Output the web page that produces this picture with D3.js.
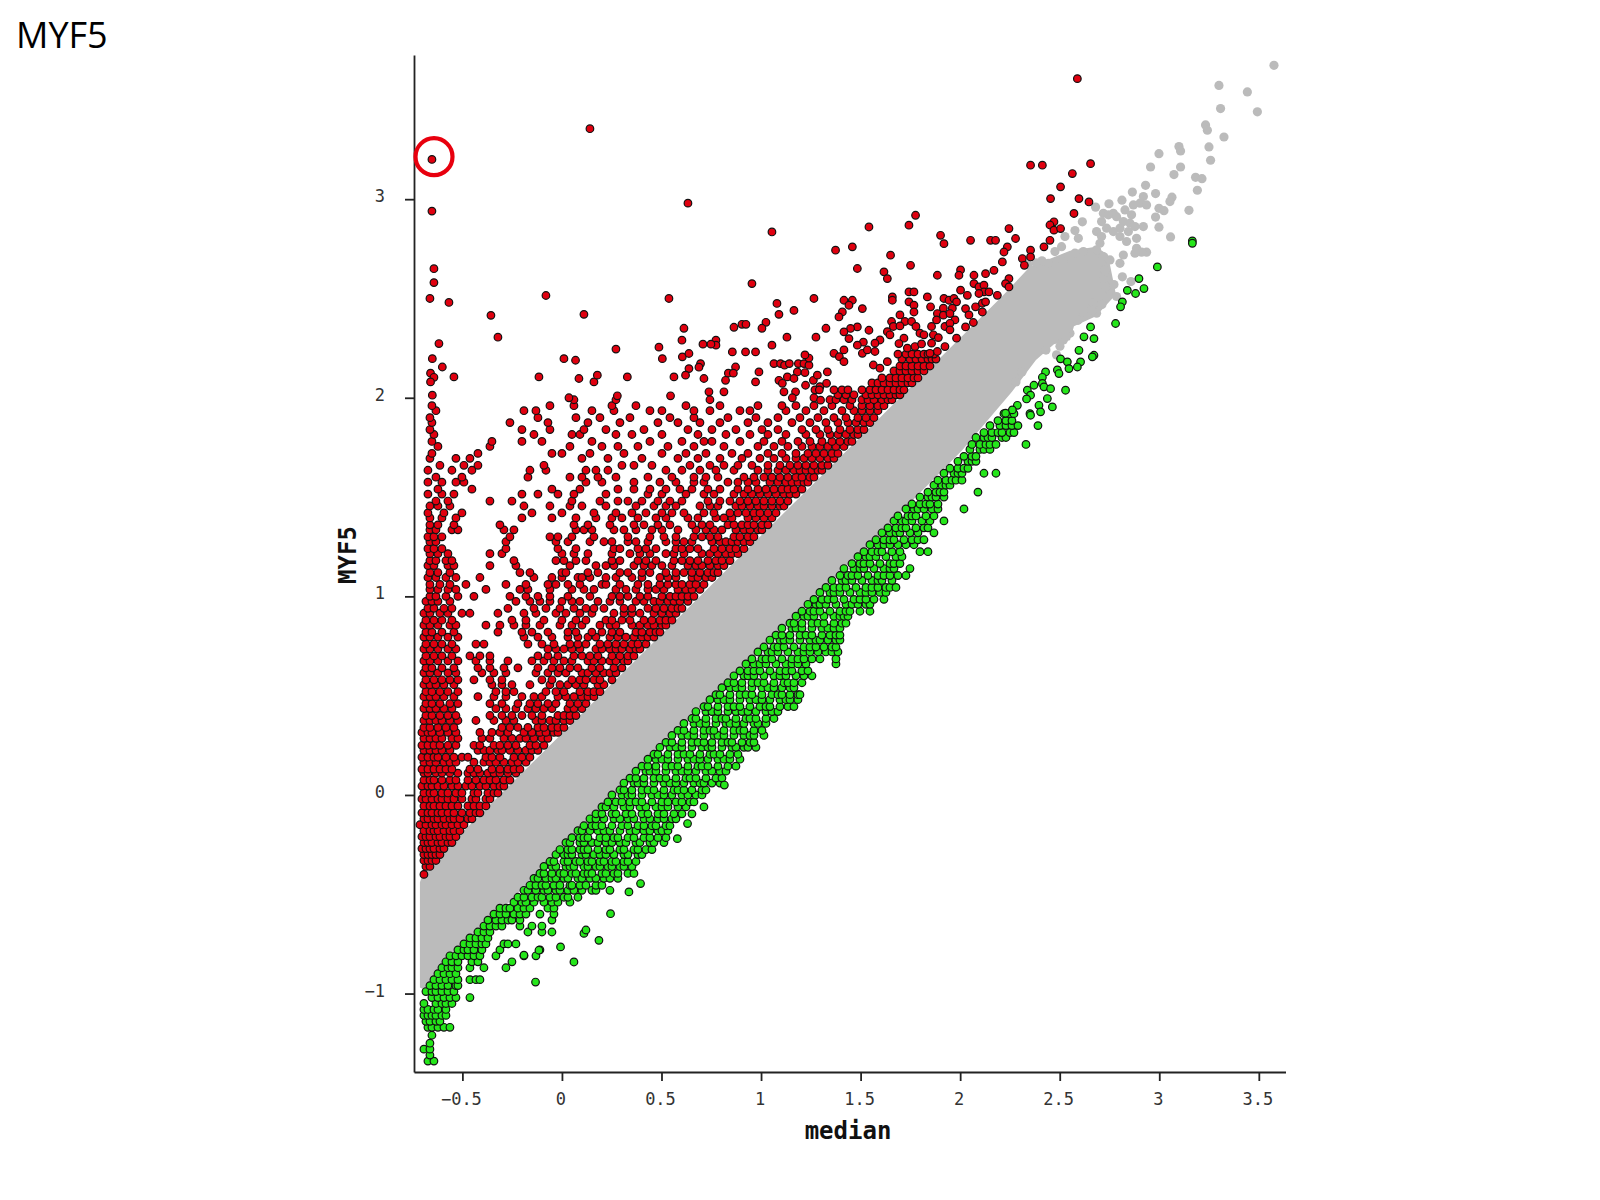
<!DOCTYPE html>
<html><head><meta charset="utf-8">
<script src="https://cdn.jsdelivr.net/npm/d3@7"></script>
<style>html,body{margin:0;padding:0;background:#fff}svg{display:block}</style>
</head><body><svg id="c" width="1600" height="1200"></svg>
<script>
const title="MYF5", xLabel="median", yLabel="MYF5";
const xTicks=[-0.5,0,0.5,1,1.5,2,2.5,3,3.5];
const yTicks=[-1,0,1,2,3];
const medianCalibration=200/199.1; // the medians below were read against a 200 px/unit grid
const bandUpper=[[-.71,-.44],[-.69,-.38],[-.5,-.19],[-.23,.08],[0,.31],[.24,.55],[.5,.81],[.75,1.06],[1,1.31],[1.25,1.56],[1.5,1.81],[1.75,2.06],[2,2.31],[2.2,2.51],[2.34,2.66],[2.44,2.70],[2.54,2.74],[2.67,2.76],[2.73,2.72]];
const bandLower=[[2.77,2.52],[2.67,2.41],[2.56,2.36],[2.54,2.29],[2.46,2.27],[2.37,2.19],[2.25,2.03],[2,1.735],[1.75,1.48],[1.5,1.23],[1.25,.98],[1,.73],[.75,.49],[.5,.235],[.25,-.02],[0,-.27],[-.25,-.525],[-.5,-.78],[-.69,-.98],[-.71,-.97]];
const greyPoints=[[3.56,3.674],[3.285,3.573],[3.427,3.54],[3.293,3.456],[3.477,3.44],[3.218,3.374],[3.227,3.347],[3.31,3.313],[3.085,3.265],[3.093,3.243],[2.985,3.229],[3.235,3.263],[3.243,3.196],[2.943,3.162],[3.093,3.162],[3.06,3.124],[3.168,3.11],[3.2,3.103],[3.177,3.045],[2.918,3.07],[2.852,3.036],[2.968,3.028],[2.8,2.995],[2.735,2.977],[2.668,2.96],[3.05,3.01],[3.04,2.988],[3.135,2.944],[2.985,2.954],[3.01,2.942],[2.968,2.91],[2.985,2.859],[3.043,2.81],[2.907,3.013],[2.89,2.98],[2.923,2.971],[2.857,2.971],[2.815,2.946],[2.848,2.921],[2.757,2.929],[2.707,2.929],[2.732,2.921],[2.773,2.912],[2.698,2.887],[2.807,2.887],[2.84,2.879],[2.865,2.862],[2.907,2.862],[2.79,2.854],[2.832,2.837],[2.673,2.837],[2.723,2.854],[2.757,2.837],[2.79,2.812],[2.873,2.803],[2.823,2.787],[2.698,2.812],[2.69,2.778],[2.602,2.886],[2.565,2.842],[2.582,2.803],[2.515,2.812],[2.498,2.761],[2.465,2.736],[2.873,2.753],[2.923,2.733],[2.898,2.733],[2.807,2.719],[2.79,2.677],[2.865,2.728],[2.74,2.694],[2.802,2.609],[2.845,2.585],[2.74,2.543],[2.773,2.51],[2.673,2.426],[2.657,2.476],[2.707,2.594],[2.715,2.644],[2.707,2.711],[2.673,2.745],[2.607,2.736],[2.565,2.728],[2.507,2.686],[2.432,2.677],[2.507,2.291],[2.473,2.216],[2.607,2.409],[2.54,2.325],[2.49,2.26],[2.52,2.31],[2.58,2.39],[2.63,2.42],[2.65,2.44],[2.72,2.56],[2.76,2.57],[2.3,2.13],[2.27,2.08],[2.42,2.24],[2.7,2.47],[2.37,2.68],[2.4,2.69],[2.33,2.67]];
// each row: MYF5 value, then the median values read along that row
const redRows=[
[-.40,-.69],[-.36,-.68,-.66],[-.33,-.69,-.67,-.65,-.63],[-.30,-.69,-.67,-.65,-.63,-.61],[-.27,-.70,-.68,-.66,-.64,-.61,-.59],[-.24,-.69,-.67,-.65,-.62,-.6,-.57,-.55],[-.21,-.7,-.68,-.66,-.63,-.61,-.58,-.56,-.53],[-.18,-.69,-.66,-.64,-.62,-.59,-.56,-.54,-.51],[-.15,-.71,-.68,-.65,-.63,-.6,-.58,-.55,-.52,-.49],[-.12,-.69,-.67,-.64,-.62,-.59,-.56,-.54,-.51,-.47,-.45],[-.09,-.7,-.67,-.65,-.62,-.6,-.57,-.54,-.5,-.46,-.43,-.41],[-.055,-.69,-.66,-.64,-.61,-.58,-.55,-.52,-.47,-.44,-.41,-.38],[-.02,-.7,-.68,-.65,-.62,-.6,-.57,-.54,-.5,-.45,-.43,-.38,-.36],[.01,-.69,-.66,-.64,-.6,-.57,-.53,-.5,-.44,-.42,-.37,-.34,-.32],[.045,-.7,-.67,-.65,-.62,-.59,-.55,-.52,-.48,-.45,-.41,-.38,-.34,-.31,-.29],[.075,-.69,-.66,-.64,-.6,-.56,-.53,-.47,-.43,-.39,-.36,-.33,-.29,-.26],[.11,-.69,-.67,-.63,-.6,-.56,-.52,-.47,-.44,-.41,-.37,-.34,-.31,-.27,-.23],
[.13,-.7,-.67,-.64,-.61,-.58,-.55,-.46,-.42,-.35,-.31,-.27,-.24,-.21],[.165,-.69,-.66,-.63,-.59,-.56,-.53,-.44,-.39,-.36,-.33,-.29,-.25,-.22,-.18],[.19,-.7,-.67,-.64,-.62,-.58,-.54,-.5,-.47,-.38,-.35,-.31,-.24,-.2,-.16],[.225,-.69,-.66,-.63,-.6,-.56,-.42,-.39,-.36,-.32,-.3,-.26,-.22,-.18,-.15,-.12],[.25,-.7,-.67,-.64,-.61,-.57,-.53,-.44,-.41,-.34,-.31,-.27,-.23,-.16,-.13,-.09],[.285,-.69,-.66,-.63,-.6,-.55,-.52,-.4,-.36,-.29,-.25,-.21,-.18,-.14,-.1,-.07],[.315,-.7,-.67,-.65,-.61,-.57,-.53,-.41,-.35,-.31,-.27,-.19,-.15,-.11,-.08,-.04,-.02],[.34,-.69,-.66,-.62,-.58,-.54,-.3,-.26,-.22,-.17,-.12,-.09,-.05,-.02,.01],[.375,-.69,-.66,-.63,-.6,-.56,-.52,-.43,-.34,-.28,-.24,-.13,-.1,-.06,-.03,.01,.04],[.40,-.68,-.65,-.61,-.57,-.53,-.36,-.3,-.25,-.2,-.15,-.1,-.02,.01,.04,.07],[.435,-.69,-.66,-.63,-.59,-.55,-.33,-.28,-.23,-.17,-.13,-.09,-.05,.03,.06,.1],[.46,-.68,-.65,-.61,-.56,-.52,-.36,-.3,-.22,-.16,-.12,-.07,-.03,.04,.08,.12],[.495,-.69,-.66,-.63,-.59,-.54,-.42,-.34,-.28,-.2,-.14,-.1,-.02,.02,.06,.1,.13,.16],[.52,-.68,-.65,-.61,-.57,-.52,-.33,-.28,-.24,-.08,-.03,.01,.09,.13,.16,.19],[.555,-.69,-.66,-.63,-.59,-.54,-.35,-.3,-.25,-.16,-.06,-.01,.03,.07,.11,.18,.21],[.58,-.68,-.64,-.6,-.56,-.52,-.44,-.36,-.3,-.1,-.05,.05,.09,.12,.16,.19,.25],[.615,-.69,-.66,-.62,-.57,-.53,-.4,-.34,-.28,-.13,-.07,-.02,.02,.1,.13,.17,.21,.24,.27],[.64,-.68,-.65,-.6,-.54,-.42,-.36,-.29,-.22,-.12,-.05,-.01,.04,.08,.15,.19,.26,.3],[.675,-.69,-.66,-.62,-.57,-.52,-.43,-.36,-.27,-.15,-.09,-.04,.01,.05,.13,.16,.2,.24,.27,.31,.33],[.70,-.68,-.64,-.6,-.55,-.46,-.41,-.36,-.12,-.07,-.02,.06,.1,.14,.18,.25,.29,.33,.36],[.735,-.69,-.66,-.62,-.57,-.53,-.07,-.03,.01,.05,.09,.17,.2,.24,.27,.3,.34,.37,.39],[.76,-.68,-.64,-.6,-.55,-.43,-.39,-.17,-.1,-.04,.04,.08,.12,.19,.23,.27,.31,.35,.38,.42],[.795,-.69,-.66,-.62,-.57,-.52,-.19,-.12,-.05,.03,.08,.13,.17,.24,.28,.32,.36,.4,.43,.46],[.82,-.68,-.65,-.6,-.54,-.32,-.2,-.15,-.07,.03,.07,.15,.2,.25,.29,.37,.4,.44,.47,.49],[.855,-.69,-.66,-.62,-.56,-.53,-.38,-.31,-.24,-.18,-.11,-.01,.05,.1,.19,.24,.27,.35,.39,.43,.46,.5,.52],[.88,-.68,-.64,-.6,-.55,-.25,-.18,-.09,0,.07,.12,.22,.25,.3,.34,.41,.45,.49,.52,.55],[.915,-.69,-.66,-.61,-.57,-.5,-.46,-.32,-.19,-.13,-.03,.02,.09,.15,.26,.31,.35,.39,.46,.5,.54,.57],[.94,-.67,-.64,-.59,-.55,-.27,-.14,-.08,-.01,.06,.12,.16,.21,.31,.35,.43,.47,.51,.55,.58,.6],[.975,-.68,-.65,-.62,-.56,-.23,-.16,-.11,-.06,0,.05,.09,.18,.24,.29,.37,.41,.46,.49,.53,.56,.59,.63],
[1,-.66,-.63,-.58,-.52,-.44,-.26,-.18,-.12,-.06,.03,.14,.25,.29,.33,.39,.43,.5,.54,.57,.6,.63,.66],[1.035,-.66,-.62,-.57,-.53,-.38,-.21,-.17,-.06,.05,.11,.16,.27,.32,.37,.43,.47,.51,.58,.62,.65,.69],[1.06,-.66,-.61,-.56,-.48,-.28,-.18,-.07,-.03,.03,.09,.2,.22,.29,.38,.43,.49,.53,.57,.6,.64,.67,.71],[1.095,-.67,-.63,-.58,-.53,-.41,-.14,-.05,0,.08,.1,.14,.22,.27,.35,.4,.49,.53,.57,.65,.68,.72,.75],[1.12,-.66,-.62,-.56,-.21,-.16,0,.02,.13,.18,.29,.33,.4,.44,.52,.57,.61,.65,.69,.73,.76,.78],[1.155,-.67,-.64,-.57,-.54,-.36,-.23,.04,.17,.22,.26,.36,.41,.45,.5,.55,.63,.67,.7,.74,.78,.81],[1.18,-.66,-.63,-.58,-.55,-.24,-.03,.01,.07,.12,.25,.29,.38,.42,.47,.56,.6,.64,.68,.73,.77,.8,.84],[1.215,-.66,-.62,-.57,-.36,-.3,0,.06,.13,.25,.34,.39,.44,.52,.56,.61,.7,.74,.78,.82,.85,.88],[1.24,-.67,-.64,-.6,-.28,-.02,.07,.26,.29,.38,.42,.47,.57,.6,.64,.68,.76,.8,.84,.87,.91],[1.275,-.66,-.63,-.28,-.03,.03,.14,.21,.25,.33,.37,.43,.52,.57,.61,.65,.75,.79,.82,.85,.88,.91,.94],[1.30,-.67,-.64,-.6,-.26,-.06,-.02,.05,.16,.33,.44,.51,.57,.66,.7,.74,.78,.86,.89,.93,.96],[1.335,-.66,-.63,-.55,-.52,-.29,-.24,.07,.11,.15,.26,.31,.37,.45,.5,.58,.67,.72,.76,.8,.87,.91,.94,.98,1],[1.36,-.66,-.62,-.54,-.31,.06,.13,.24,.36,.41,.48,.54,.65,.7,.74,.83,.86,.9,.93,.96,1,1.03],[1.395,-.66,-.6,-.53,-.2,-.05,.07,.17,.25,.3,.38,.47,.52,.63,.68,.77,.81,.85,.93,.97,1.01,1.05],[1.42,-.67,-.59,-.5,-.15,0,.16,.27,.35,.42,.5,.55,.61,.71,.76,.84,.88,.92,.96,.99,1.03,1.07],[1.455,-.66,-.62,-.56,-.19,-.06,.04,.1,.22,.37,.46,.52,.57,.69,.74,.78,.87,.9,.94,.98,1.01,1.05,1.09,1.11],[1.48,-.63,-.57,-.36,-.25,.05,.19,.28,.33,.4,.48,.54,.6,.73,.79,.84,.89,.93,.97,1.01,1.05,1.09,1.13],[1.515,-.67,-.6,-.54,-.2,-.12,-.02,.06,.22,.43,.5,.62,.71,.76,.86,.91,.95,.99,1.03,1.07,1.11,1.14,1.17],[1.54,-.62,-.45,-.05,.09,.28,.36,.44,.52,.59,.65,.73,.79,.88,.93,.98,1.02,1.06,1.1,1.13,1.16,1.2],[1.575,-.67,-.6,-.53,-.49,.12,.2,.36,.49,.57,.66,.71,.83,.88,.93,.97,1.04,1.08,1.12,1.15,1.18,1.21,1.23],[1.60,-.63,-.5,-.17,.04,.1,.18,.27,.43,.55,.66,.72,.78,.91,.96,1.01,1.05,1.09,1.13,1.17,1.2,1.24,1.26],[1.635,-.67,-.55,-.45,-.16,-.08,.12,.17,.23,.52,.6,.69,.77,.86,.98,1.03,1.08,1.12,1.16,1.19,1.22,1.25,1.28,1.3],[1.66,-.61,-.49,-.42,-.09,.3,.36,.45,.64,.74,.81,.88,.95,1.03,1.09,1.14,1.18,1.22,1.26,1.3,1.33],[1.695,-.66,-.53,-.46,.1,.23,.4,.58,.68,.79,.9,.99,1.06,1.12,1.17,1.21,1.25,1.29,1.33,1.36],[1.72,-.65,-.42,-.05,0,.14,.31,.5,.62,.72,.85,.93,1.03,1.1,1.17,1.23,1.27,1.31,1.35,1.38],[1.755,-.62,-.36,.04,.2,.28,.38,.53,.66,.81,.98,1.06,1.13,1.2,1.25,1.29,1.33,1.37,1.41],[1.78,-.65,-.35,-.2,-.1,.15,.44,.6,.71,.75,.89,1.01,1.1,1.18,1.24,1.3,1.35,1.39,1.43,1.45],[1.815,-.64,-.14,.05,.09,.27,.35,.5,.68,.82,.94,1.03,1.12,1.22,1.29,1.34,1.38,1.42,1.46,1.48],[1.84,-.66,-.2,-.06,.11,.22,.41,.63,.75,.87,1,1.08,1.2,1.27,1.33,1.39,1.44,1.48,1.51],[1.875,-.65,-.26,-.07,.13,.29,.48,.58,.69,.79,.93,1.03,1.15,1.24,1.32,1.38,1.43,1.47,1.51,1.54],[1.90,-.66,-.12,.07,.19,.34,.54,.66,.83,.97,1.08,1.19,1.28,1.36,1.42,1.48,1.52,1.56],[1.935,-.63,-.19,-.13,.15,.26,.44,.5,.66,.74,.89,.94,1.12,1.22,1.31,1.4,1.46,1.5,1.54,1.58],[1.96,-.65,-.06,.06,.25,.37,.62,.79,.98,1.1,1.17,1.26,1.35,1.44,1.5,1.54,1.58,1.61],[1.99,.06,.27,.74,1.34,1.37,1.41,1.45,1.5,1.53,1.56,1.6,1.63,1.65],[2.015,1.38,1.42,1.46,1.52,1.55,1.58,1.61,1.64,1.67,1.69],[2.04,1.36,1.4,1.43,1.5,1.54,1.57,1.6,1.63,1.66,1.69,1.71],[2.075,1.55,1.58,1.61,1.64,1.67,1.7,1.73,1.75],[2.10,1.6,1.64,1.67,1.7,1.73,1.76,1.78],[2.135,1.66,1.69,1.72,1.75,1.78,1.81],[2.16,1.69,1.72,1.75,1.78,1.81,1.84],[2.195,1.7,1.74,1.77,1.8,1.83,1.85,1.87],[2.22,1.68,1.72,1.75,1.78,1.81,1.83,1.86]
];
const redPoints=[[-.65,3.2],[.14,3.355],[-.65,2.94],[.63,2.98],[1.05,2.835],[-.64,2.65],[-.64,2.58],[-.66,2.5],[-.565,2.48],[-.08,2.515],[-.355,2.415],[-.32,2.305],[.11,2.42],[.535,2.5],[.95,2.575],[1.26,2.5],[1.075,2.475],[1.085,2.42],[1.16,2.44],[1.02,2.38],[1,2.35],[.9,2.37],[.92,2.37],[.86,2.355],[.61,2.35],[.6,2.29],[1.32,2.35],[1.27,2.305],[1.125,2.305],[1.05,2.265],[.77,2.29],[.77,2.265],[.745,2.27],[.705,2.27],[.485,2.255],[.27,2.245],
[-.648,2.013],[-.657,2.124],[-.64,2.103],[-.657,2.08],[-.598,2.155],[-.54,2.105],[-.648,2.197],[-.615,2.273],[-.115,2.105],[.01,2.197],[.068,2.189],[.085,2.097],[.16,2.08],[.177,2.114],[.327,2.105],[.502,2.197],[.602,2.206],[.635,2.223],[.693,2.172],[.685,2.154],[.635,2.147],[.618,2.114],[.56,2.105],[.71,2.097],[.852,2.231],[.918,2.231],[.968,2.231],[.868,2.155],[.832,2.124],[.857,2.124],[.818,2.088],[.985,2.13],[.968,2.08],[1.06,2.172],[1.093,2.172],[1.113,2.164],[1.137,2.172],[1.182,2.172],[1.21,2.172],[1.235,2.164],[1.235,2.2],[1.215,2.216],[1.177,2.13],[1.215,2.127],[1.127,2.105],[1.16,2.097],[1.085,2.088],[1.102,2.073],[1.218,2.063],[1.257,2.088],[1.277,2.114],[1.327,2.13],[1.168,2.03],[1.152,2],[1.11,2.03],[1.29,2.056],[1.323,2.073],[1.265,2.04],[1.287,2.04],[1.26,2],[1.293,1.988],[.277,2.01],[.543,2.01],[.735,2.03],[.81,2.03],[.035,2],
[2.577,3.607],[2.343,3.171],[2.402,3.171],[2.643,3.179],[2.552,3.129],[2.493,3.062],[2.443,3.003],[2.585,3.003],[2.635,2.986],[2.56,2.928],[2.46,2.886],[2.44,2.87],[2.46,2.844],[2.493,2.852],[2.44,2.793],[2.41,2.76],[2.343,2.743],[2.343,2.709],[2.302,2.701],[2.312,2.667],[2.235,2.852],[2.268,2.802],[2.227,2.76],[2.21,2.734],[2.202,2.684],[2.143,2.793],[2.168,2.793],[2.043,2.793],[1.893,2.818],[1.91,2.776],[1.768,2.919],[1.735,2.869],[1.535,2.86],[1.452,2.76],[1.368,2.743],[1.643,2.718],[1.477,2.651],[1.743,2.667],[1.61,2.634],[1.627,2.6],[1.877,2.617],[1.993,2.644],[1.985,2.617],[2.06,2.617],[2.118,2.625],[2.16,2.642],[2.235,2.6],[2.218,2.575],[2.235,2.558],[2.06,2.575],[2.085,2.558],[2.11,2.567],[2.11,2.533],[2.085,2.525],[2.135,2.533],[2.177,2.516],[1.993,2.542],[2.027,2.516],[1.735,2.533],[1.76,2.533],[1.652,2.508],[1.652,2.491],[1.827,2.508],[1.41,2.491],[1.452,2.491],[1.502,2.449],[1.435,2.466],[1.402,2.432],[1.385,2.407],[1.735,2.483],[1.76,2.466],[1.76,2.432],[1.843,2.458],[1.91,2.5],[1.935,2.491],[1.96,2.5],[1.973,2.483],[1.907,2.451],[1.952,2.451],[1.877,2.424],[1.907,2.416],[1.94,2.424],[2.018,2.449],[2.068,2.458],[2.102,2.476],[2.118,2.483],[2.102,2.432],[2.035,2.417],[2.057,2.379],[2.018,2.357],[1.965,2.392],[1.873,2.392],[1.848,2.359],[1.915,2.359],[1.94,2.375],[1.94,2.342],[1.973,2.3],[1.69,2.417],[1.648,2.384],[1.715,2.384],[1.748,2.384],[1.657,2.359],[1.69,2.362],[1.77,2.359],[1.535,2.34],[1.477,2.357],[1.443,2.349],[1.41,2.332],[1.435,2.298],[1.627,2.333],[1.64,2.317],[1.71,2.3],[1.685,2.273],[1.79,2.325],[1.81,2.317],[1.857,2.317],[1.882,2.303],[1.59,2.291],[1.565,2.275],[1.507,2.28],[1.477,2.265],[1.727,2.25],[1.765,2.258],[1.798,2.271],[1.848,2.275],[1.915,2.258],[1.877,2.233],[1.84,2.224],[1.36,2.224],[1.41,2.241],[1.387,2.207],[1.41,2.182],[1.502,2.224],[1.527,2.241],[1.565,2.233],[1.557,2.165],[1.627,2.182],[1.59,2.149]
];
const greenRows=[
[-1.34,-.67,-.64],[-1.31,-.66],[-1.28,-.69,-.66],[-1.25,-.66],[-1.21,-.65],[-1.17,-.67,-.65,-.62,-.59,-.56],[-1.14,-.68,-.66,-.63,-.61],[-1.11,-.69,-.67,-.65,-.63,-.6,-.58],[-1.08,-.69,-.67,-.64,-.62,-.58],[-1.05,-.69,-.63,-.6,-.58,-.55],[-1.02,-.65,-.62,-.59,-.56,-.53,-.46],[-.99,-.68,-.65,-.63,-.6,-.57,-.54],[-.96,-.66,-.63,-.6,-.57,-.53,-.52],[-.93,-.64,-.61,-.58,-.55,-.52,-.46,-.43,-.41],[-.90,-.62,-.59,-.56,-.53],[-.87,-.6,-.57,-.55,-.52,-.46,-.39,-.28],[-.84,-.58,-.55,-.52,-.45,-.42,-.25],[-.81,-.56,-.53,-.5,-.47,-.44,-.41,-.33,-.19,-.13],[-.78,-.52,-.49,-.47,-.44,-.4,-.31,-.11],[-.75,-.49,-.46,-.43,-.4,-.38,-.29,-.27,-.23],[-.72,-.46,-.43,-.4,-.37],[-.69,-.42,-.39,-.36,-.17,-.1,-.05],[-.66,-.39,-.36,-.33,-.3,-.21,-.15,-.1],[-.63,-.37,-.33,-.3,-.27,-.25,-.21,-.05],[-.60,-.34,-.31,-.28,-.24,-.21,-.18,-.11,-.04],[-.57,-.31,-.28,-.26,-.22,-.19,-.16,-.07,-.04],[-.54,-.24,-.2,-.18,-.14,-.09,-.05,-.02,.04],[-.515,-.22,-.19,-.15,-.12,-.1,-.06,-.03,.01,.03,.08],[-.48,-.19,-.17,-.13,-.09,-.07,-.03,-.01,.03,.06,.1,.15,.17,.24],[-.455,-.16,-.13,-.1,-.08,-.04,-.01,.04,.05,.09,.12,.17,.2],[-.42,-.14,-.12,-.08,-.05,-.03,.01,.03,.08,.1,.14,.17,.21,.24,.28],[-.395,-.11,-.09,-.05,-.01,.01,.05,.07,.11,.13,.15,.2,.22,.26,.28,.33,.36],[-.36,-.09,-.05,-.03,.02,.04,.06,.11,.13,.17,.19,.23,.25,.29,.31,.35],[-.335,-.06,-.04,.01,.03,.07,.09,.13,.15,.19,.21,.25,.27,.31,.33,.37],[-.30,-.03,.01,.03,.05,.1,.12,.16,.19,.22,.26,.31,.33,.38,.4],[-.275,-.01,.03,.05,.09,.11,.13,.18,.22,.24,.29,.31,.36,.38,.42,.45],[-.24,.02,.04,.09,.11,.15,.18,.22,.25,.29,.32,.37,.39,.44,.46,.51],[-.215,.05,.09,.11,.13,.19,.22,.26,.28,.33,.36,.41,.44,.48,.52],[-.18,.08,.1,.14,.18,.21,.24,.29,.34,.37,.41,.44,.48,.5,.53],[-.155,.11,.15,.17,.2,.25,.3,.33,.38,.41,.45,.47,.52,.54],[-.12,.14,.17,.21,.26,.29,.33,.36,.41,.44,.48,.51,.55,.57],[-.095,.17,.2,.25,.27,.32,.35,.4,.43,.48,.51,.56,.6,.65],[-.06,.2,.22,.26,.31,.34,.39,.42,.47,.5,.53,.58,.62],[-.035,.23,.27,.3,.34,.37,.4,.45,.5,.53,.57,.6,.64,.66],[0,.25,.3,.33,.35,.4,.45,.48,.51,.55,.6,.63,.67,.7],[.025,.29,.31,.35,.4,.43,.46,.51,.56,.58,.61,.65,.7,.72],[.06,.31,.36,.38,.41,.46,.51,.54,.57,.61,.66,.69,.71,.75,.79],[.085,.34,.37,.41,.46,.49,.52,.57,.62,.64,.67,.72,.77,.8],[.12,.37,.42,.44,.47,.52,.57,.6,.63,.67,.72,.75,.79,.82],[.145,.4,.43,.47,.52,.55,.58,.63,.68,.7,.73,.78,.83,.87],[.18,.43,.47,.5,.53,.58,.63,.66,.69,.73,.78,.81,.84,.89],[.205,.46,.48,.53,.58,.61,.64,.69,.74,.76,.79,.84,.88],[.24,.49,.54,.57,.6,.65,.7,.73,.75,.8,.85,.87,.91,.93,.97],[.265,.52,.55,.6,.65,.68,.71,.75,.8,.83,.85,.9,.94,.96],[.30,.55,.6,.63,.66,.71,.76,.78,.81,.86,.91,.94,.96,1.01],[.325,.58,.61,.66,.71,.74,.76,.81,.86,.89,.91,.96,1],[.36,.61,.66,.69,.72,.77,.82,.84,.87,.91,.96,.98,1.02],[.385,.65,.67,.72,.77,.8,.82,.87,.92,.94,.97,1.02,1.06],[.42,.67,.72,.75,.78,.83,.87,.9,.93,.97,1.02,1.05,1.08],[.445,.71,.73,.78,.83,.86,.89,.94,.99,1.02,1.04,1.09,1.13,1.16],[.48,.74,.78,.81,.84,.89,.94,.97,1,1.04,1.09,1.12,1.14,1.18],[.505,.77,.79,.84,.89,.92,.95,1,1.05,1.08,1.1,1.14,1.18,1.19],[.54,.8,.84,.87,.9,.95,1,1.03,1.06,1.1,1.14,1.16],[.565,.83,.86,.9,.95,.98,1.01,1.06,1.11,1.13,1.16,1.2],[.60,.86,.91,.93,.96,1.01,1.06,1.09,1.12,1.17,1.21,1.25],[.625,.89,.93,.96,.99,1.04,1.09,1.12,1.15,1.2,1.23],[.66,.92,.96,.99,1.02,1.07,1.12,1.15,1.18,1.22,1.37],[.685,.95,1,1.02,1.05,1.1,1.15,1.18,1.21,1.25,1.29,1.37],[.72,.98,1.03,1.05,1.08,1.13,1.18,1.21,1.24,1.28,1.32,1.35,1.38],[.745,1.01,1.06,1.08,1.11,1.16,1.21,1.24,1.27,1.31,1.35,1.37],[.78,1.04,1.09,1.11,1.14,1.19,1.24,1.27,1.29,1.33,1.37,1.39],[.805,1.07,1.1,1.14,1.19,1.22,1.25,1.3,1.34,1.37,1.39],[.84,1.1,1.15,1.17,1.2,1.25,1.3,1.33,1.36,1.39],[.865,1.14,1.16,1.2,1.25,1.28,1.31,1.36,1.4,1.42],[.90,1.17,1.21,1.23,1.26,1.31,1.36,1.39,1.41,1.43],[.925,1.2,1.24,1.26,1.29,1.34,1.39,1.42,1.44,1.49,1.54],[.96,1.23,1.27,1.29,1.32,1.37,1.42,1.45,1.48,1.52,1.54],[.985,1.26,1.3,1.33,1.36,1.41,1.46,1.49,1.52,1.56,1.61],[1.02,1.29,1.34,1.36,1.39,1.44,1.49,1.52,1.55,1.59,1.62],[1.045,1.32,1.36,1.39,1.42,1.47,1.52,1.55,1.58,1.62,1.64,1.67],[1.08,1.35,1.4,1.42,1.45,1.5,1.55,1.58,1.6,1.65],[1.105,1.39,1.43,1.45,1.48,1.53,1.58,1.61,1.64,1.68,1.72],[1.14,1.41,1.46,1.49,1.51,1.56,1.61,1.64,1.66,1.74],[1.165,1.45,1.49,1.51,1.54,1.59,1.64,1.66,1.69],[1.20,1.48,1.52,1.54,1.57,1.62,1.67,1.7],[1.225,1.51,1.55,1.58,1.6,1.65,1.69,1.79,1.83],[1.26,1.54,1.58,1.61,1.64,1.68,1.72,1.76],[1.285,1.57,1.61,1.64,1.66,1.71,1.75,1.78,1.81],[1.32,1.6,1.64,1.67,1.69,1.74,1.78,1.86],[1.345,1.63,1.67,1.7,1.72,1.77,1.81,1.83],[1.38,1.66,1.7,1.72,1.75,1.8,1.84,1.91],[1.405,1.68,1.73,1.75,1.77,1.82,1.86],[1.44,1.72,1.76,1.78,1.81,1.85,1.88,2.01],[1.465,1.75,1.79,1.82,1.84,1.88],[1.50,1.79,1.83,1.85,1.87,1.91],[1.525,1.83,1.87,1.89,1.91,2.08],[1.56,1.86,1.9,1.92,1.94],[1.585,1.88,1.92,1.95,1.97,2],[1.62,1.91,1.96,1.98,2,2.11,2.17],[1.645,1.94,1.98,2.01,2.03],[1.68,1.98,2.03,2.05,2.07],[1.705,2.01,2.05,2.07],[1.74,2.04,2.09,2.11,2.14],[1.765,2.05,2.09,2.12,2.14,2.17,2.32],[1.80,2.07,2.11,2.13,2.15,2.2,2.22],[1.825,2.11,2.15,2.18,2.2,2.24,2.26],[1.86,2.14,2.19,2.22,2.25,2.28,2.38],[1.885,2.18,2.22,2.25],[1.92,2.21,2.24,2.26,2.34]
];
const greenPoints=[[-.19,-.807],[.06,-.841],[-.132,-.942],[-.115,-.782],[-.007,-.765],[.185,-.732],[.11,-.697],[.12,-.68],[.243,-.598],[.393,-.446],[.335,-.488],[.577,-.22],[.628,-.144],[.71,-.06],[.812,.05],[3.152,2.79],[3.152,2.778],[2.977,2.659],[2.885,2.6],[2.827,2.541],[2.868,2.525],[2.91,2.55],[2.802,2.483],[2.793,2.458],[2.768,2.374],[2.643,2.357],[2.61,2.307],[2.66,2.298],[2.585,2.239],[2.66,2.214],[2.652,2.206],[2.493,2.196],[2.527,2.181],[2.593,2.181],[2.577,2.155],[2.535,2.147],[2.418,2.13],[2.477,2.14],[2.485,2.122],[2.402,2.103],[2.402,2.072],[2.36,2.063],[2.41,2.055],[2.443,2.046],[2.518,2.038],[2.327,2.038],[2.343,2.013],[2.323,1.994],[2.427,1.996],[2.385,1.962],[2.452,1.954],[2.393,1.929],[2.343,1.912],[2.277,1.962],[2.252,1.939],[2.218,1.922]];

const svg=d3.select("#c");
const x=d3.scaleLinear().domain([-0.743,3.634]).range([414,1285.5]);
const y=d3.scaleLinear().domain([-1.395,3.726]).range([1072,55]);
const px=d=>x(d[0]*medianCalibration), py=d=>y(d[1]);
const rowsToPoints=rows=>rows.flatMap(r=>r.slice(1).map(v=>[v,r[0]]));
const line=d3.line().x(px).y(py);

svg.append("path").attr("d",line(bandUpper.concat(bandLower))+"Z").attr("fill","#bbbbbb");
svg.append("g").selectAll("circle").data(greyPoints).join("circle")
 .attr("cx",px).attr("cy",py).attr("r",4.6).attr("fill","#bbbbbb");
function dots(data,fill){
 svg.append("g").selectAll("circle").data(data).join("circle")
 .attr("cx",px).attr("cy",py).attr("r",3.8)
 .attr("fill",fill).attr("stroke","#111").attr("stroke-width",1.2);
}
dots(rowsToPoints(redRows).concat(redPoints),"#e0000f");
dots(rowsToPoints(greenRows).concat(greenPoints),"#25e61a");

const fmt=d=>String(d).replace("-","\u2212");
const gx=svg.append("g").attr("transform","translate(0,1072)")
 .call(d3.axisBottom(x).tickValues(xTicks).tickFormat(fmt).tickSize(9).tickSizeOuter(0).tickPadding(12));
const gy=svg.append("g").attr("transform","translate(414,0)")
 .call(d3.axisLeft(y).tickValues(yTicks).tickFormat(fmt).tickSize(9).tickSizeOuter(0).tickPadding(20));
[gx,gy].forEach(g=>{
 g.selectAll("path,line").attr("stroke","#222").attr("stroke-width",1.8);
 g.selectAll("text").attr("font-family","'DejaVu Sans Mono',monospace").attr("font-size",17).attr("fill","#333");
});
gx.selectAll("text").attr("dx",-1.5);
gy.selectAll("text").attr("dy","0.15em");

svg.append("text").attr("x",848).attr("y",1139).attr("text-anchor","middle")
 .attr("font-family","'DejaVu Sans Mono',monospace").attr("font-weight","bold").attr("font-size",24).attr("fill","#111").text(xLabel);
svg.append("text").attr("transform","translate(356,555) rotate(-90)").attr("text-anchor","middle")
 .attr("font-family","'DejaVu Sans Mono',monospace").attr("font-weight","bold").attr("font-size",24).attr("fill","#111").text(yLabel);
svg.append("text").attr("x",16).attr("y",48).attr("font-family","'Open Sans','Noto Sans',sans-serif").attr("font-size",36).attr("fill","#000").text(title);
svg.append("circle").attr("cx",434).attr("cy",156.7).attr("r",18.5).attr("fill","none").attr("stroke","#e8000e").attr("stroke-width",4.2);
</script></body></html>
